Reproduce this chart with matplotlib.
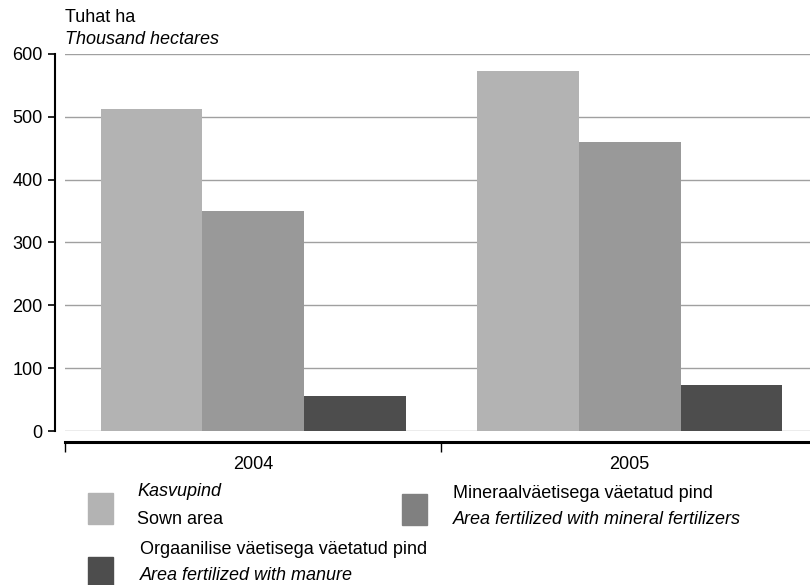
import numpy as np
import matplotlib.pyplot as plt
from matplotlib.patches import Rectangle

plt.rcParams['font.family'] = ['Liberation Sans', 'DejaVu Sans']
plt.rcParams['font.size'] = 13

# Data
years = ["2004", "2005"]
sown = [513, 573]
mineral = [350, 460]
manure = [56, 73]
yticks = [0, 100, 200, 300, 400, 500, 600]

col_sown = "#b3b3b3"
col_mineral = "#999999"
col_manure = "#4d4d4d"

fig = plt.figure(figsize=(8.1, 5.85), dpi=100)
ax = fig.add_axes([65 / 810, 1 - 431 / 585, (818 - 65) / 810, (431 - 54) / 585])

x = np.arange(len(years))
w = 0.27
ax.bar(x - w, sown, w, color=col_sown, zorder=2)
ax.bar(x, mineral, w, color=col_mineral, zorder=2)
ax.bar(x + w, manure, w, color=col_manure, zorder=2)

ax.set_xlim(-0.5, 1.5)
ax.set_ylim(0, 600)
ax.set_yticks(yticks)
ax.yaxis.grid(True, color="#a0a0a0", linewidth=1, zorder=0)
ax.tick_params(axis='y', length=5, width=1.2, pad=4, labelsize=13)

# category labels centred, ticks at category boundaries
ax.set_xticks([-0.5, 0.5, 1.5])
ax.set_xticklabels([])
ax.set_xticks(x, minor=True)
ax.set_xticklabels(years, minor=True)
ax.tick_params(axis='x', which='major', length=7, width=1, direction='out')
ax.tick_params(axis='x', which='minor', length=0, pad=10, labelsize=13)

for s in ["top", "right"]:
    ax.spines[s].set_visible(False)
ax.spines["left"].set_position(("outward", 7))
ax.spines["left"].set_linewidth(1.5)
ax.spines["bottom"].set_position(("outward", 8))
ax.spines["bottom"].set_linewidth(2.2)

fig.text(65 / 810, 1 - 18 / 585, "Tuhat ha", ha="left", va="center", fontsize=13)
fig.text(65 / 810, 1 - 40 / 585, "Thousand hectares", ha="left", va="center",
         fontsize=13, style="italic")

# legend
def legend_entry(px, py, color, tx, lines):
    fig.add_artist(Rectangle((px / 810, 1 - (py + 31) / 585), 25 / 810, 31 / 585,
                             transform=fig.transFigure, color=color))
    for (txt, ty, it) in lines:
        fig.text(tx / 810, 1 - ty / 585, txt, ha="left", va="center", fontsize=13,
                 style="italic" if it else "normal")

legend_entry(88, 493, col_sown, 137,
             [("Kasvupind", 492, True), ("Sown area", 520, False)])
legend_entry(402, 494, "#808080", 453,
             [("Mineraalväetisega väetatud pind", 493, False),
              ("Area fertilized with mineral fertilizers", 520, True)])
legend_entry(88, 557, col_manure, 140,
             [("Orgaanilise väetisega väetatud pind", 550, False),
              ("Area fertilized with manure", 576, True)])

fig.savefig("out.png", dpi=100)
